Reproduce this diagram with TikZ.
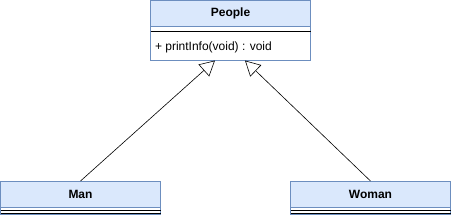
\documentclass[tikz,border=0pt]{standalone}
\usepackage{fontspec}
\setmainfont{Liberation Sans}
\usetikzlibrary{arrows.meta}
\definecolor{hdrfill}{HTML}{DAE8FC}
\definecolor{hdrline}{HTML}{6C8EBF}
\tikzset{
  every node/.style={font=\fontsize{12}{14}\selectfont, inner sep=0pt, outer sep=0pt},
  classhdr/.style={draw=hdrline, fill=hdrfill, line width=0.8pt, minimum width=160pt, minimum height=26pt, font=\fontsize{12}{14}\selectfont\bfseries},
  classbody/.style={draw=hdrline, fill=white, line width=0.8pt},
  sepline/.style={draw=black, line width=0.9pt},
  inherit/.style={draw=black, line width=0.6pt, -{Triangle[open, length=15pt, width=16pt, line width=0.6pt]}},
}
\begin{document}
\begin{tikzpicture}[x=1pt, y=-1pt]
\useasboundingbox (0,0) rectangle (451,215);
% People
\draw[classbody] (150.5,0.5) rectangle (310.5,60.5);
\node[classhdr, anchor=north west] (people) at (150.5,0.5) {People};
\draw[sepline] (150.5,31) -- (310.5,31);
\node[anchor=west] (method) at (155,47) {+ printInfo(void) : void};
\coordinate (pbl) at (215,60.5);
\coordinate (pbr) at (245,60.5);
% Man
\draw[classbody] (0.5,181) rectangle (160.5,214);
\node[classhdr, anchor=north west] (man) at (0.5,181) {Man};
\draw[sepline] (0.5,210) -- (160.5,210);
\draw[sepline] (0.5,213.7) -- (160.5,213.7);
% Woman
\draw[classbody] (290.5,181) rectangle (450.5,214);
\node[classhdr, anchor=north west] (woman) at (290.5,181) {Woman};
\draw[sepline] (290.5,210) -- (450.5,210);
\draw[sepline] (290.5,213.7) -- (450.5,213.7);
% Inheritance
\draw[inherit] (man.north) -- (pbl);
\draw[inherit] (woman.north) -- (pbr);
\end{tikzpicture}
\end{document}
